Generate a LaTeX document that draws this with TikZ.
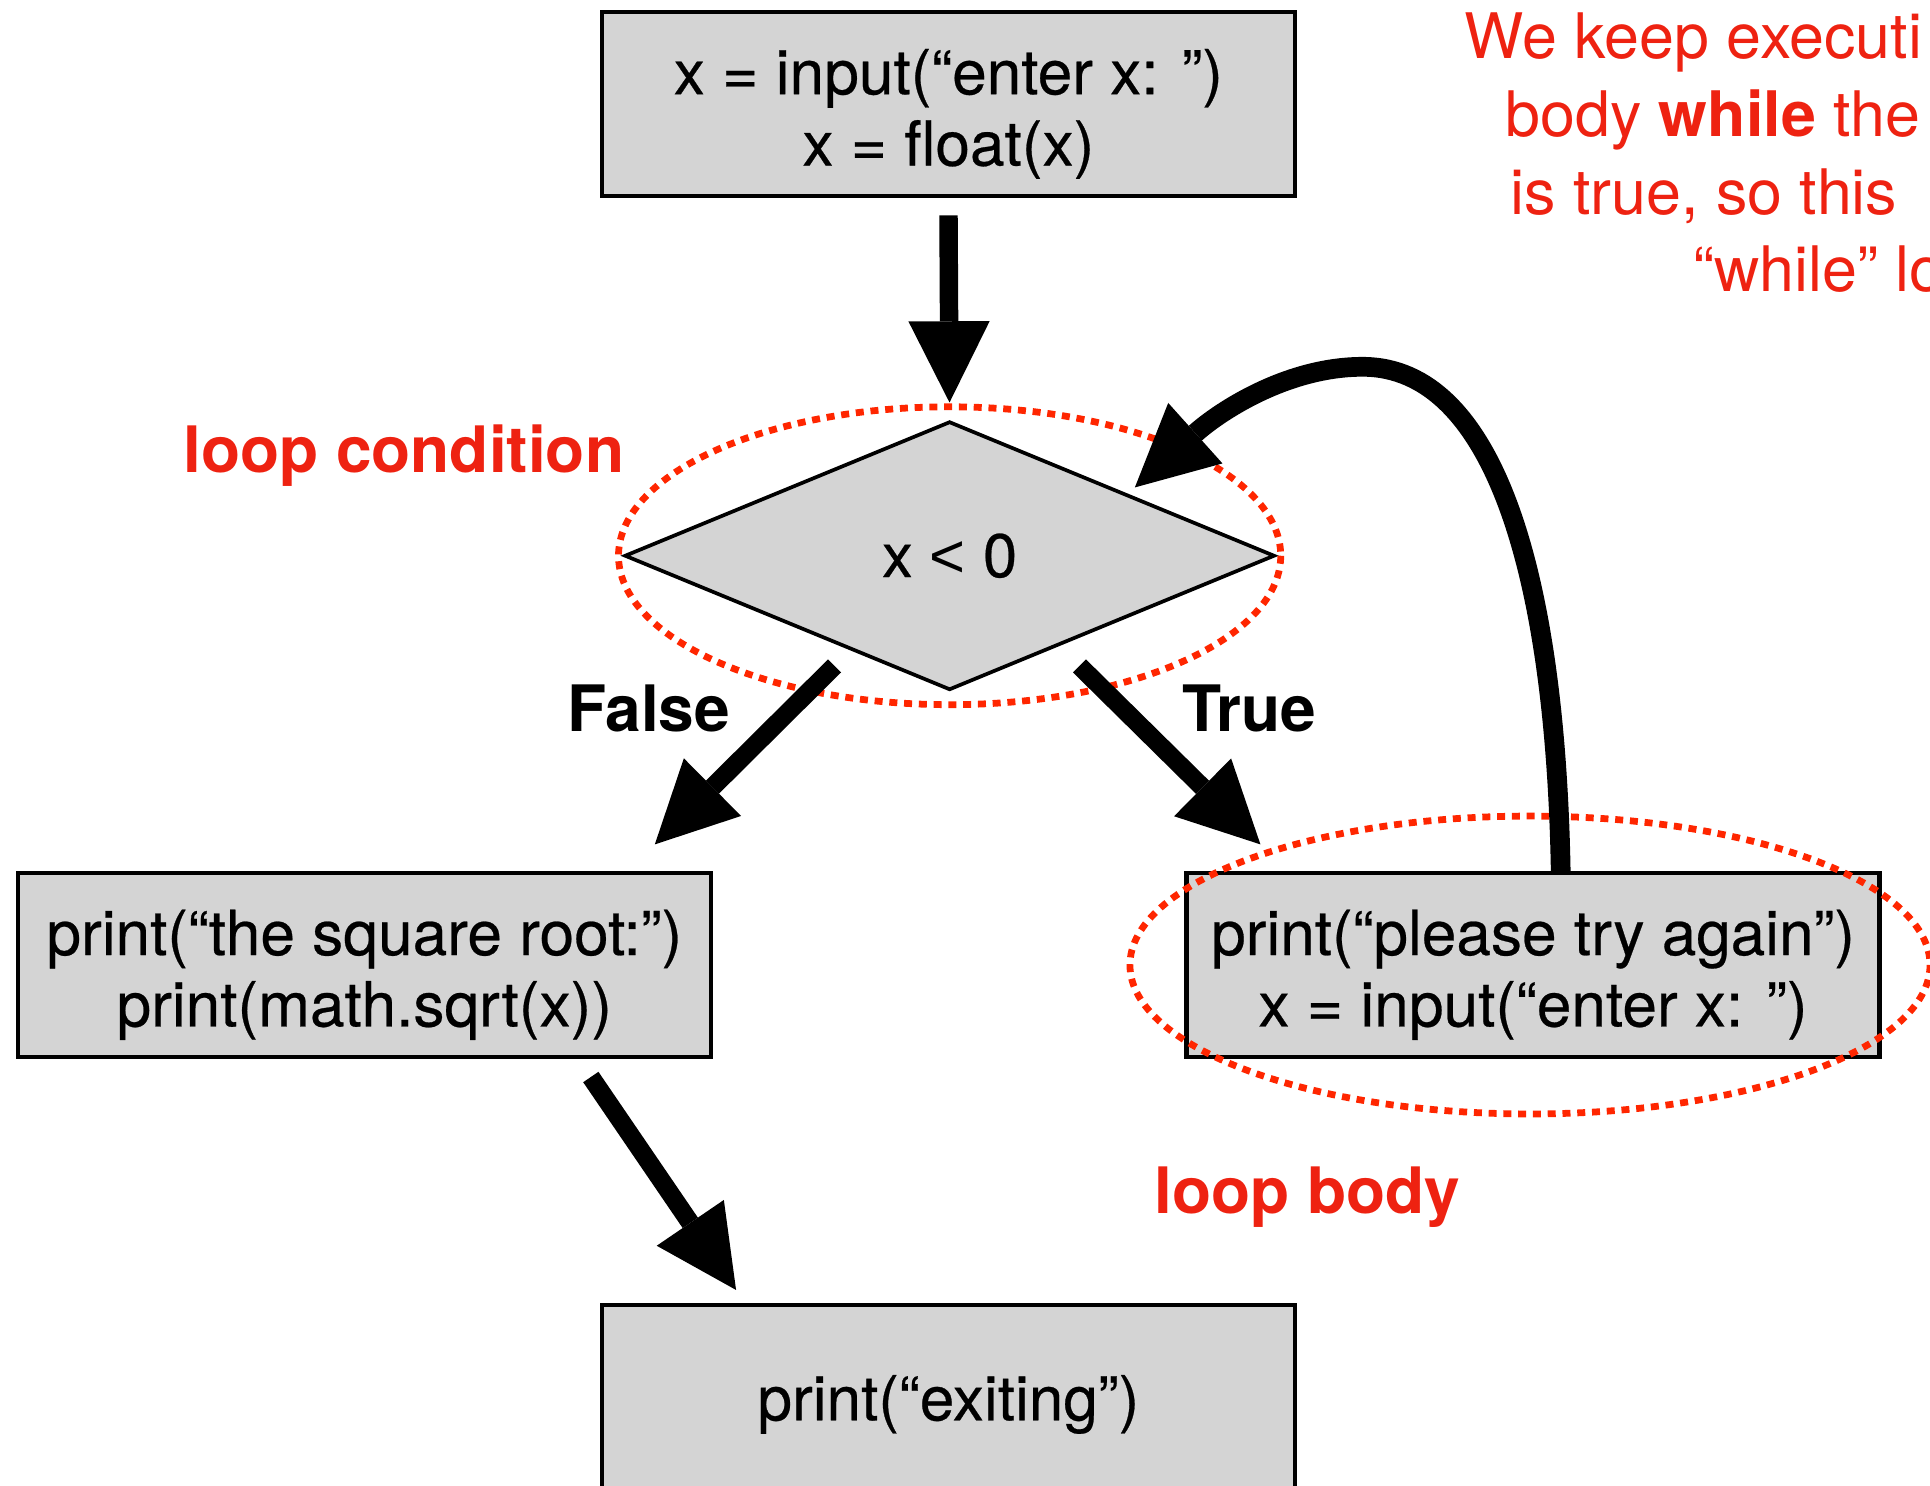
\documentclass[tikz,border=0pt]{standalone}
\usepackage{fontspec}
\setmainfont{TeX Gyre Heros}
\newfontfamily\codefont{TeX Gyre Heros}[FakeBold=0.4]
\newfontfamily\ltfont{Liberation Sans}
\usetikzlibrary{arrows.meta,shapes.geometric,calc}
\definecolor{boxgray}{RGB}{212,212,212}
\definecolor{dotred}{RGB}{255,38,0}
\definecolor{txtred}{RGB}{238,34,17}
\begin{document}
\begin{tikzpicture}[x=1pt,y=-1pt,
  every node/.style={inner sep=0pt,outer sep=0pt},
  codebox/.style={draw=black,fill=boxgray,line width=3.5pt,minimum width=563pt,minimum height=149pt},
  codetxt/.style={align=center,font=\codefont\fontsize{50.5}{58}\selectfont},
  redlbl/.style={text=txtred,font=\fontsize{52}{60}\selectfont\bfseries},
  blklbl/.style={text=black,font=\fontsize{52}{60}\selectfont\bfseries},
  notetxt/.style={text=txtred,font=\fontsize{51}{64}\selectfont,anchor=base west},
  bigarrow/.style={line width=15pt,-{Triangle[length=66pt,width=66pt,line width=0pt]}},
  dotring/.style={draw=dotred,line width=5.5pt,dash pattern=on 6.5pt off 5.5pt}
]
\useasboundingbox (0,0) rectangle (1568,1207);
\clip (0,0) rectangle (1568,1207);

% boxes
\node[codebox] (init) at (770.5,84.5) {};
\node[codetxt] (inittxt) at ($(init.center)+(0,8)$) {x = input(“enter x: ”)\\x = float(x)};

\node[draw=black,fill=boxgray,line width=3pt,diamond,minimum width=527pt,minimum height=217pt,font=\codefont\fontsize{50}{58}\selectfont] (cond) at (771.5,451.5) {x {\ltfont <} 0};

\node[codebox] (sqrt) at (296,784) {};
\node[codetxt] (sqrttxt) at ($(sqrt.center)+(0,8)$) {print(“the square root:”)\\print(math.sqrt(x))};

\node[codebox] (body) at (1245.5,784) {};
\node[codetxt] (bodytxt) at ($(body.center)+(0,8)$) {print(“please try again”)\\x = input(“enter x: ”)};

\node[codebox,minimum height=150pt] (exit) at (770.5,1135) {};
\node[codetxt] (exittxt) at ($(exit.center)+(0,6)$) {print(“exiting”)};

% red dotted rings
\draw[dotring] (cond.center) ellipse [x radius=269, y radius=121];
\draw[dotring] (1243,784) ellipse [x radius=325, y radius=121];

% labels
\node[redlbl,anchor=base] (lc) at (328,384) {loop condition};
\node[redlbl,anchor=base] (lb) at (1062,986) {loop body};
\node[blklbl,anchor=base] (lf) at (527,594) {False};
\node[blklbl,anchor=base] (lt) at (1015,594) {True};

\node[notetxt] (n1) at (1190,47.5) {We keep executi};
\node[notetxt] (n2) at (1223,111) {body \textbf{while} the};
\node[notetxt] (n3) at (1227,174) {is true, so this};
\node[notetxt] (n4) at (1376,237) {“while” lo};

% connectors
\draw[bigarrow,shorten <=16pt,shorten >=16pt] (init.south) -- (cond.north);

\coordinate (fa1) at (678,541);
\coordinate (fa2) at (532,686);
\draw[bigarrow] (fa1) -- (fa2);

\coordinate (ta1) at (877,541);
\coordinate (ta2) at (1024,686);
\draw[bigarrow] (ta1) -- (ta2);

\coordinate (ba1) at (480,875);
\coordinate (ba2) at (598,1048);
\draw[bigarrow] (ba1) -- (ba2);

\coordinate (lp0) at ($(body.north)+(22.5,0)$);
\coordinate (lpk) at (1107,298);
\coordinate (lp1) at (922,396);
\draw[bigarrow,line width=16pt] (lp0) .. controls (1264,470) and (1215,298) .. (lpk)
  .. controls (1045,298) and (990,335) .. (lp1);
\end{tikzpicture}
\end{document}
